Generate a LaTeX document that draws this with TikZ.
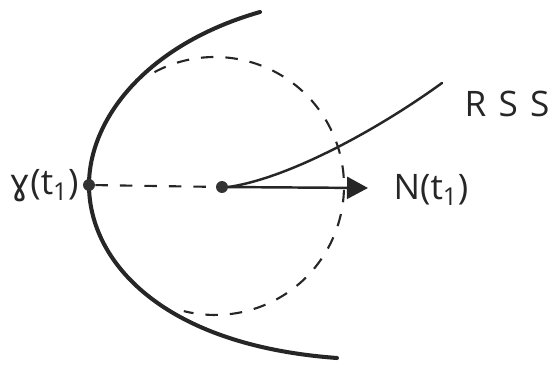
\documentclass[tikz,border=0pt]{standalone}
\usepackage{fontspec}
\setmainfont{Open Sans}
\newfontfamily\ipafont{DejaVu Sans}
\usetikzlibrary{arrows.meta}

\begin{document}
\begin{tikzpicture}[x=0.02cm,y=-0.02cm,
front/.style={line width=2.3pt,line cap=round,draw=black!85},
ray/.style={line width=1.4pt,line cap=round,draw=black!85},
guide/.style={line width=1.2pt,draw=black!85,dash pattern=on 0.25cm off 0.24cm},
dot/.style={circle,fill=black!80,inner sep=0pt,minimum size=0.24cm},
lab/.style={font=\fontsize{20}{24}\selectfont,text=black!85,inner sep=0pt}]
\useasboundingbox (0,0) rectangle (555,368);
% the curve gamma
\draw[front] (260,12) .. controls (145,45) and (89,120) .. (89,185)
  .. controls (89,260) and (160,345) .. (337,358);
% osculating circle, right part only
\draw[guide] (215,186) ++(118:2.58cm) arc[start angle=118,end angle=-104,radius=2.58cm];
\node[dot] (gamma) at (89,185) {};
\node[dot] (centre) at (222,187) {};
\coordinate (tip) at (368,188);
\coordinate (rssend) at (442,83);
\draw[guide] (gamma)--(centre);
\draw[ray] (centre.east) .. controls (290,178) and (380,128) .. (rssend);
\draw[ray,-{Triangle[length=0.42cm,width=0.44cm]}] (centre)--(tip);
\node[lab] (glab) at (44,186) {{\ipafont ɣ}(t\textsubscript{1})};
\node[lab] (nlab) at (431,190) {N(t\textsubscript{1})};
\node[lab] (rss) at (507,104) {R\kern7pt S\kern7pt S};
\end{tikzpicture}
\end{document}
